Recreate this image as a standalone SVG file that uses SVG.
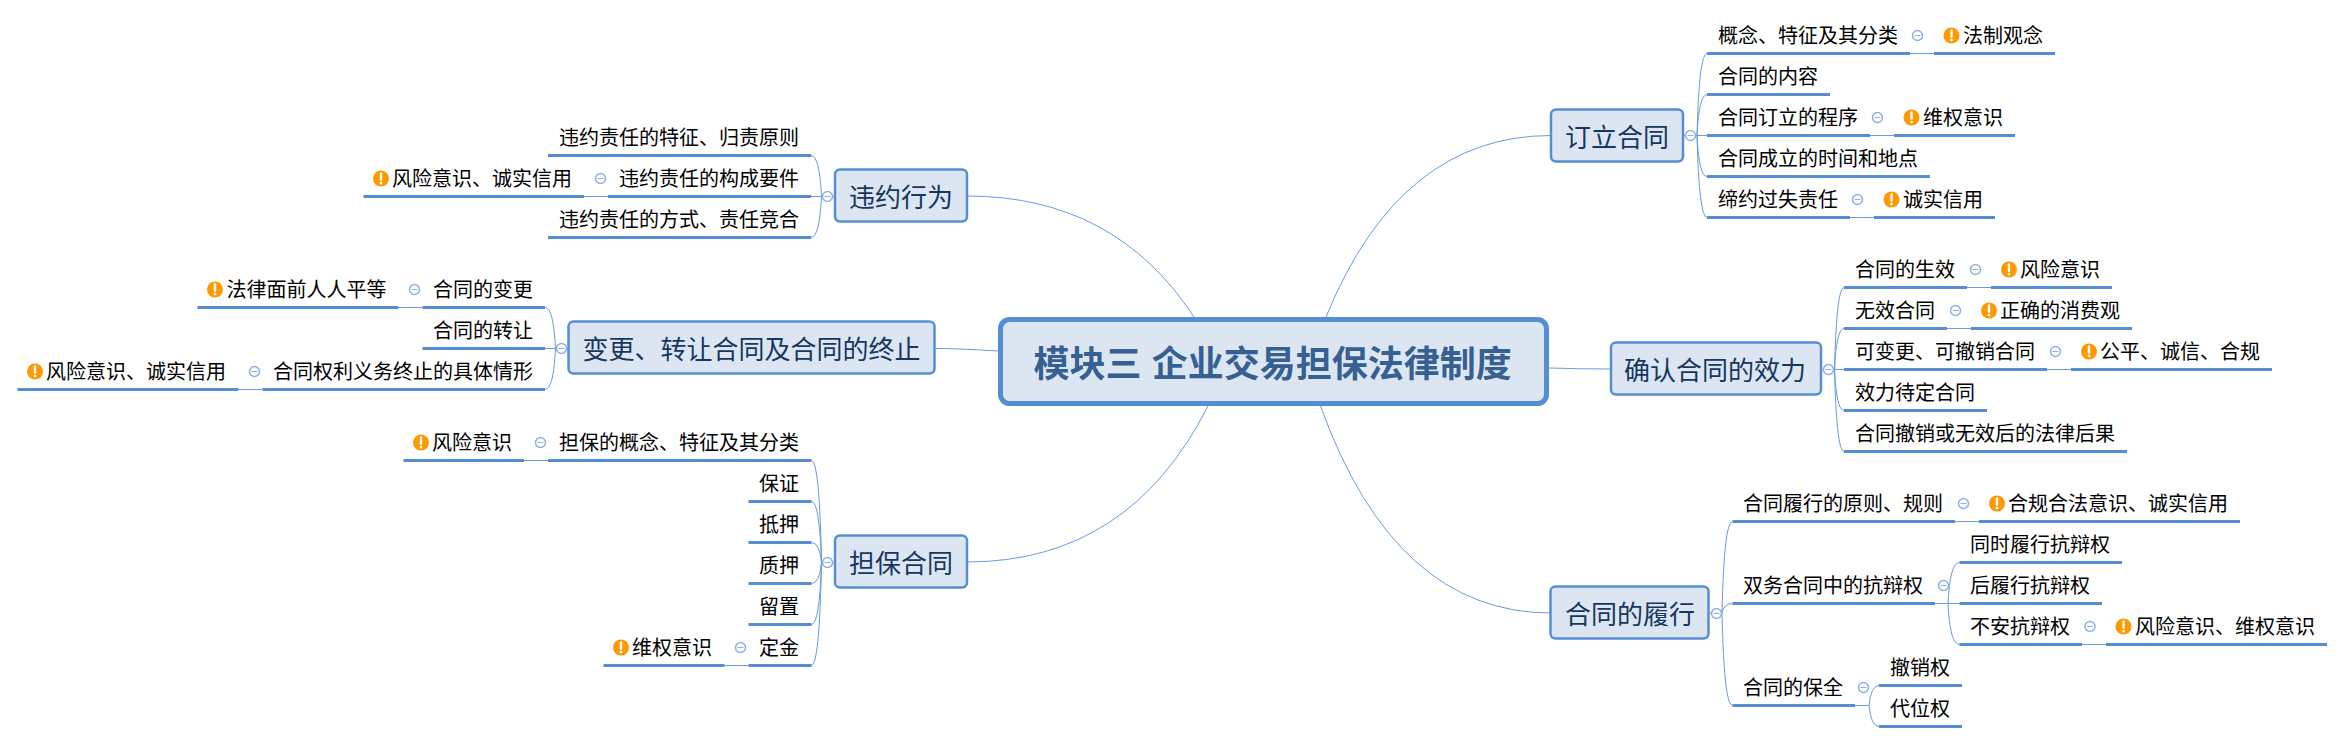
<svg xmlns="http://www.w3.org/2000/svg" width="2345" height="743" viewBox="0 0 2345 743">
<style>
text{font-family:"Noto Sans CJK SC","Noto Sans",sans-serif;}
.root rect{fill:#dce6f2;stroke:#558ed5;stroke-width:5;}
.root text{font-size:36px;font-weight:700;fill:#376092;word-spacing:2px;}
.main rect{fill:#dce6f2;stroke:#558ed5;stroke-width:2.5;}
.main text{font-size:26px;fill:#17375e;transform:translateY(1.5px);}
.sub text{font-size:20px;fill:#000;transform:translateY(1px);}
.sub line{stroke:#558ed5;stroke-width:3;}
.c{fill:none;stroke:#6a9bdc;stroke-width:1;}
.t circle{fill:#fff;stroke:#8fb1e0;stroke-width:1.5;}
.t line{stroke:#8fb1e0;stroke-width:1;}
</style>
<defs>
<g id="toggle" class="t"><circle r="5"/><line x1="-3" x2="3"/></g>
<g id="warn"><circle r="8" fill="#ff9900"/><path d="M0-5V1.2" stroke="#fff" stroke-width="2.4" stroke-linecap="round" fill="none"/><circle cy="4.6" r="1.4" fill="#fff"/></g>
</defs>
<g id="connectors">
<path class="c" d="M1326 317Q1400 135.500 1551 135.500"/>
<path class="c" d="M1194 317Q1115 196 967 196"/>
<path class="c" d="M998 351Q960 348.500 935 348.500"/>
<path class="c" d="M1208 406Q1129 562 967 562"/>
<path class="c" d="M1549 368Q1580 369 1611 369"/>
<path class="c" d="M1320.500 406Q1395 613 1551 613"/>
<!-- 订立合同 -->
<path class="c" d="M1684 135.500H1707M1697 135.500Q1699 53.500 1707 53.500M1697 135.500Q1699 94.500 1707 94.500M1697 135.500Q1699 176.500 1707 176.500M1697 135.500Q1699 217.500 1707 217.500M1910 53.500H1934M1870 135.500H1894M1850 217.500H1874"/>
<use href="#toggle" x="1690.500" y="135.500"/><use href="#toggle" x="1917.500" y="35.500"/><use href="#toggle" x="1877.500" y="117.500"/><use href="#toggle" x="1857.500" y="199.500"/>
<!-- 确认合同的效力 -->
<path class="c" d="M1821 369.500H1844M1834.500 369.500Q1836.500 287.500 1844 287.500M1834.500 369.500Q1836.500 328.500 1844 328.500M1834.500 369.500Q1836.500 410.500 1844 410.500M1834.500 369.500Q1836.500 451.500 1844 451.500M1967 287.500H1991M1947 328.500H1971M2047 369.500H2071"/>
<use href="#toggle" x="1828.500" y="369.500"/><use href="#toggle" x="1975.500" y="269.500"/><use href="#toggle" x="1955.500" y="310.500"/><use href="#toggle" x="2055.500" y="351.500"/>
<!-- 合同的履行 -->
<path class="c" d="M1709 613H1722M1722 613Q1724 521.500 1732.500 521.500M1722 613Q1724 603.500 1732.500 603.500M1722 613Q1724 705.500 1732.500 705.500M1955 521.500H1979M1935 603.500H1959.500M1948 603.500Q1950 562.500 1959.500 562.500M1948 603.500Q1950 644.500 1959.500 644.500M2082 644.500H2106M1855 705.500H1869M1869 705.500Q1871 685.500 1879 685.500M1869 705.500Q1871 726.500 1879 726.500"/>
<use href="#toggle" x="1716.500" y="613.500"/><use href="#toggle" x="1963.500" y="503.500"/><use href="#toggle" x="1943.500" y="585.500"/><use href="#toggle" x="2090" y="626.500"/><use href="#toggle" x="1863.500" y="687.500"/>
<!-- 违约行为 -->
<path class="c" d="M835 196.500H811M821.500 196.500Q819.500 155.500 811 155.500M821.500 196.500Q819.500 237.500 811 237.500M608 196.500H584"/>
<use href="#toggle" x="827.500" y="196.500"/><use href="#toggle" x="600.500" y="178.500"/>
<!-- 变更 -->
<path class="c" d="M568 348.500H545M555.500 348.500Q553.500 307.500 545 307.500M555.500 348.500Q553.500 389.500 545 389.500M422.500 307.500H398.500M262.500 389.500H238.500"/>
<use href="#toggle" x="561.500" y="348.500"/><use href="#toggle" x="414.500" y="289.500"/><use href="#toggle" x="254.500" y="371.500"/>
<!-- 担保合同 -->
<path class="c" d="M835 562.500H821.500M821.500 562.500Q819.500 460.500 811.500 460.500M821.500 562.500Q819.500 501.500 811.500 501.500M821.500 562.500Q819.500 542.500 811.500 542.500M821.500 562.500Q819.500 583.500 811.500 583.500M821.500 562.500Q819.500 624.500 811.500 624.500M821.500 562.500Q819.500 665.500 811.500 665.500M548 460.500H524M748.500 665.500H724.500"/>
<use href="#toggle" x="827.500" y="562.500"/><use href="#toggle" x="540.500" y="442.500"/><use href="#toggle" x="740.500" y="647.500"/>
</g>

<g id="central" class="root"><rect x="1000.500" y="319.500" width="546" height="84" rx="9"/><text x="1033.500" y="377">模块三 企业交易担保法律制度</text></g>

<g id="n1" class="main"><rect x="1551" y="109.500" width="132" height="52" rx="5"/><text x="1565" y="145">订立合同</text></g>
<g id="n1-1" class="sub"><line x1="1707" x2="1910" y1="53.500" y2="53.500"/><text x="1718" y="41.500">概念、特征及其分类</text></g>
<g id="n1-1a" class="sub"><line x1="1934" x2="2055" y1="53.500" y2="53.500"/><use href="#warn" x="1951.500" y="35.500"/><text x="1963" y="41.500">法制观念</text></g>
<g id="n1-2" class="sub"><line x1="1707" x2="1830" y1="94.500" y2="94.500"/><text x="1718" y="82.500">合同的内容</text></g>
<g id="n1-3" class="sub"><line x1="1707" x2="1870" y1="135.500" y2="135.500"/><text x="1718" y="123.500">合同订立的程序</text></g>
<g id="n1-3a" class="sub"><line x1="1894" x2="2015" y1="135.500" y2="135.500"/><use href="#warn" x="1911.500" y="117.500"/><text x="1923" y="123.500">维权意识</text></g>
<g id="n1-4" class="sub"><line x1="1707" x2="1930" y1="176.500" y2="176.500"/><text x="1718" y="164.500">合同成立的时间和地点</text></g>
<g id="n1-5" class="sub"><line x1="1707" x2="1850" y1="217.500" y2="217.500"/><text x="1718" y="205.500">缔约过失责任</text></g>
<g id="n1-5a" class="sub"><line x1="1874" x2="1995" y1="217.500" y2="217.500"/><use href="#warn" x="1891.500" y="199.500"/><text x="1903" y="205.500">诚实信用</text></g>

<g id="n2" class="main"><rect x="1611" y="342.500" width="210" height="52" rx="5"/><text x="1624" y="378">确认合同的效力</text></g>
<g id="n2-1" class="sub"><line x1="1844" x2="1967" y1="287.500" y2="287.500"/><text x="1855" y="275.500">合同的生效</text></g>
<g id="n2-1a" class="sub"><line x1="1991" x2="2112" y1="287.500" y2="287.500"/><use href="#warn" x="2009" y="269.500"/><text x="2020" y="275.500">风险意识</text></g>
<g id="n2-2" class="sub"><line x1="1844" x2="1947" y1="328.500" y2="328.500"/><text x="1855" y="316.500">无效合同</text></g>
<g id="n2-2a" class="sub"><line x1="1971" x2="2132" y1="328.500" y2="328.500"/><use href="#warn" x="1989" y="310.500"/><text x="2000" y="316.500">正确的消费观</text></g>
<g id="n2-3" class="sub"><line x1="1844" x2="2047" y1="369.500" y2="369.500"/><text x="1855" y="357.500">可变更、可撤销合同</text></g>
<g id="n2-3a" class="sub"><line x1="2071" x2="2272" y1="369.500" y2="369.500"/><use href="#warn" x="2089" y="351.500"/><text x="2100" y="357.500">公平、诚信、合规</text></g>
<g id="n2-4" class="sub"><line x1="1844" x2="1987" y1="410.500" y2="410.500"/><text x="1855" y="398.500">效力待定合同</text></g>
<g id="n2-5" class="sub"><line x1="1844" x2="2127" y1="451.500" y2="451.500"/><text x="1855" y="439.500">合同撤销或无效后的法律后果</text></g>

<g id="n3" class="main"><rect x="1550.500" y="586.500" width="158" height="52" rx="5"/><text x="1565" y="622">合同的履行</text></g>
<g id="n3-1" class="sub"><line x1="1732.500" x2="1955" y1="521.500" y2="521.500"/><text x="1743" y="509.500">合同履行的原则、规则</text></g>
<g id="n3-1a" class="sub"><line x1="1979" x2="2240" y1="521.500" y2="521.500"/><use href="#warn" x="1997" y="503.500"/><text x="2008" y="509.500">合规合法意识、诚实信用</text></g>
<g id="n3-2" class="sub"><line x1="1732.500" x2="1935" y1="603.500" y2="603.500"/><text x="1743" y="591.500">双务合同中的抗辩权</text></g>
<g id="n3-2-1" class="sub"><line x1="1959.500" x2="2122" y1="562.500" y2="562.500"/><text x="1970" y="550.500">同时履行抗辩权</text></g>
<g id="n3-2-2" class="sub"><line x1="1959.500" x2="2102" y1="603.500" y2="603.500"/><text x="1970" y="591.500">后履行抗辩权</text></g>
<g id="n3-2-3" class="sub"><line x1="1959.500" x2="2082" y1="644.500" y2="644.500"/><text x="1970" y="632.500">不安抗辩权</text></g>
<g id="n3-2-3a" class="sub"><line x1="2106" x2="2327" y1="644.500" y2="644.500"/><use href="#warn" x="2123.500" y="626.500"/><text x="2135" y="632.500">风险意识、维权意识</text></g>
<g id="n3-3" class="sub"><line x1="1732.500" x2="1855" y1="705.500" y2="705.500"/><text x="1743" y="693.500">合同的保全</text></g>
<g id="n3-3-1" class="sub"><line x1="1879" x2="1962" y1="685.500" y2="685.500"/><text x="1890" y="673.500">撤销权</text></g>
<g id="n3-3-2" class="sub"><line x1="1879" x2="1962" y1="726.500" y2="726.500"/><text x="1890" y="714.500">代位权</text></g>

<g id="n4" class="main"><rect x="835" y="169.500" width="132" height="52" rx="5"/><text x="849" y="205">违约行为</text></g>
<g id="n4-1" class="sub"><line x1="548" x2="811" y1="155.500" y2="155.500"/><text x="559" y="143.500">违约责任的特征、归责原则</text></g>
<g id="n4-2" class="sub"><line x1="608" x2="811" y1="196.500" y2="196.500"/><text x="619" y="184.500">违约责任的构成要件</text></g>
<g id="n4-2a" class="sub"><line x1="363.500" x2="584" y1="196.500" y2="196.500"/><use href="#warn" x="381" y="178.500"/><text x="392" y="184.500">风险意识、诚实信用</text></g>
<g id="n4-3" class="sub"><line x1="548" x2="811" y1="237.500" y2="237.500"/><text x="559" y="225.500">违约责任的方式、责任竞合</text></g>

<g id="n5" class="main"><rect x="568.500" y="321.500" width="366" height="52" rx="5"/><text x="582.500" y="357">变更、转让合同及合同的终止</text></g>
<g id="n5-1" class="sub"><line x1="422.500" x2="545" y1="307.500" y2="307.500"/><text x="433" y="295.500">合同的变更</text></g>
<g id="n5-1a" class="sub"><line x1="197.500" x2="398.500" y1="307.500" y2="307.500"/><use href="#warn" x="215" y="289.500"/><text x="226.500" y="295.500">法律面前人人平等</text></g>
<g id="n5-2" class="sub"><line x1="422.500" x2="545" y1="348.500" y2="348.500"/><text x="433" y="336.500">合同的转让</text></g>
<g id="n5-3" class="sub"><line x1="262.500" x2="545" y1="389.500" y2="389.500"/><text x="273" y="377.500">合同权利义务终止的具体情形</text></g>
<g id="n5-3a" class="sub"><line x1="17.500" x2="238.500" y1="389.500" y2="389.500"/><use href="#warn" x="35" y="371.500"/><text x="46" y="377.500">风险意识、诚实信用</text></g>

<g id="n6" class="main"><rect x="835" y="535.500" width="132" height="52" rx="5"/><text x="849" y="571">担保合同</text></g>
<g id="n6-1" class="sub"><line x1="548" x2="811.500" y1="460.500" y2="460.500"/><text x="559" y="448.500">担保的概念、特征及其分类</text></g>
<g id="n6-1a" class="sub"><line x1="403.500" x2="524" y1="460.500" y2="460.500"/><use href="#warn" x="421" y="442.500"/><text x="432" y="448.500">风险意识</text></g>
<g id="n6-2" class="sub"><line x1="748.500" x2="811.500" y1="501.500" y2="501.500"/><text x="759" y="489.500">保证</text></g>
<g id="n6-3" class="sub"><line x1="748.500" x2="811.500" y1="542.500" y2="542.500"/><text x="759" y="530.500">抵押</text></g>
<g id="n6-4" class="sub"><line x1="748.500" x2="811.500" y1="583.500" y2="583.500"/><text x="759" y="571.500">质押</text></g>
<g id="n6-5" class="sub"><line x1="748.500" x2="811.500" y1="624.500" y2="624.500"/><text x="759" y="612.500">留置</text></g>
<g id="n6-6" class="sub"><line x1="748.500" x2="811.500" y1="665.500" y2="665.500"/><text x="759" y="653.500">定金</text></g>
<g id="n6-6a" class="sub"><line x1="603.500" x2="724.500" y1="665.500" y2="665.500"/><use href="#warn" x="621" y="647.500"/><text x="632" y="653.500">维权意识</text></g>
</svg>
